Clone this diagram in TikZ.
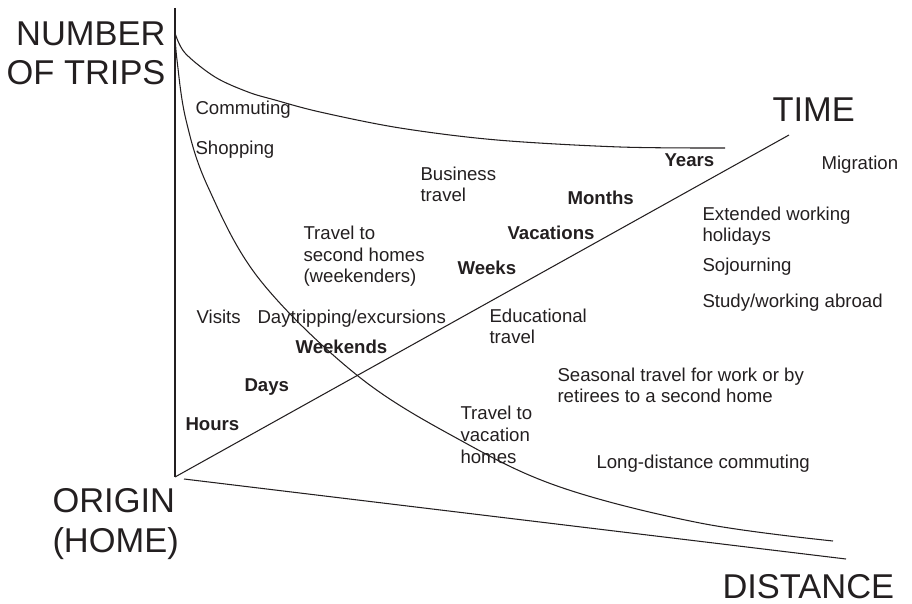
\documentclass[tikz,border=0pt]{standalone}
\usepackage{fontspec}
\setmainfont{Liberation Sans}
\definecolor{ink}{HTML}{231F20}

\begin{document}
\begin{tikzpicture}[x=0.02cm, y=-0.02cm, line width=0.6pt, color=ink,
  lbl/.style={anchor=base west, inner sep=0pt, align=left, font=\fontsize{10.6}{12.5}\selectfont},
  tightlbl/.style={lbl, font=\fontsize{10.6}{11.4}\selectfont},
  unit/.style={lbl, font=\fontsize{10.6}{12.5}\selectfont\bfseries},
  axislbl/.style={inner sep=0pt, align=left, font=\fontsize{19.6}{22.5}\selectfont}]

\useasboundingbox (0,0) rectangle (912,604);

\coordinate (top) at (175,8);
\coordinate (peak) at (175,33);
\coordinate (origin) at (175,477);
\coordinate (timeend) at (789,135);
\coordinate (diststart) at (184,479);
\coordinate (distend) at (846,559);

\draw (top) -- (origin);
\draw (origin) -- (timeend);
\draw (diststart) -- (distend);
\draw plot[smooth, tension=0.55] coordinates {(peak) (185,53) (215,77) (248,92) (275,100) (320,112) (400,128) (497,140) (620,147) (725,148)};
\draw plot[smooth, tension=0.6] coordinates {(peak) (177,60) (186,120) (208,187) (260,280) (358,376) (460,440) (560,487) (700,523) (833,541)};

% multi-line nodes: base is the last line
\node[axislbl, anchor=base east, align=right] (trips) at (166,85) {NUMBER\\OF TRIPS};
\node[axislbl, anchor=base west] (origintxt) at (52,552) {ORIGIN\\(HOME)};
\node[axislbl, anchor=base west] (timetxt) at (772,122) {TIME};
\node[axislbl, anchor=base west] (disttxt) at (722,598) {DISTANCE};

\foreach \nm/\x/\y/\txt in {hours/185/430/Hours, days/244/391/Days, weekends/295/353/Weekends, weeks/457/275/Weeks, vacations/507/240/Vacations, months/567/205/Months, years/664/167/Years}
  \node[unit] (\nm) at (\x,\y) {\txt};

\node[lbl] (commuting) at (195,115) {Commuting};
\node[lbl] (shopping) at (195,155) {Shopping};
\node[lbl] (business) at (420,202) {Business\\travel};
\node[lbl] (second) at (303,283) {Travel to\\second homes\\(weekenders)};
\node[lbl] (visits) at (196,323) {Visits};
\node[lbl] (daytrip) at (257,323) {Daytripping/excursions};
\node[tightlbl] (educ) at (489,343) {Educational\\travel};
\node[tightlbl] (seasonal) at (557,402) {Seasonal travel for work or by\\retirees to a second home};
\node[lbl] (vachomes) at (460,463) {Travel to\\vacation\\homes};
\node[lbl] (longdist) at (596,468) {Long-distance commuting};
\node[lbl] (migration) at (821,170) {Migration};
\node[lbl] (extended) at (702,242) {Extended working\\holidays};
\node[lbl] (sojourn) at (702,272) {Sojourning};
\node[lbl] (abroad) at (702,308) {Study/working abroad};

\end{tikzpicture}
\end{document}
